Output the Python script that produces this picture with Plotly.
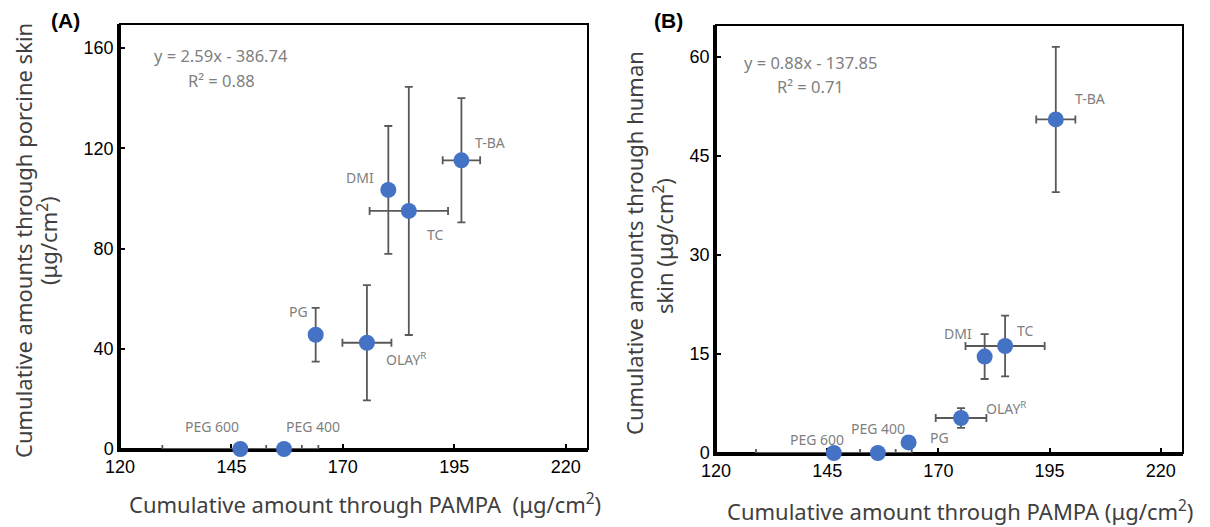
import plotly.graph_objects as go

W, H = 1210, 527

# ---------------- data ----------------
labels = ["PEG 600", "PEG 400", "PG", "OLAY<sup>R</sup>", "DMI", "TC", "T-BA"]

# Panel A (porcine skin)
a_x = [147.0, 156.8, 163.9, 175.4, 180.2, 184.8, 196.6]
a_xerr = [17.5, 4.0, 0.0, 5.5, 0.0, 8.8, 4.2]
a_y = [0.0, 0.0, 45.6, 42.4, 103.4, 95.0, 115.2]
a_yerr = [0.0, 0.0, 10.7, 23.0, 25.5, 49.5, 24.8]

# Panel B (human skin)
b_x = [146.5, 156.4, 163.3, 175.1, 180.4, 185.0, 196.4]
b_xerr = [17.5, 4.0, 0.0, 5.7, 0.0, 8.9, 4.4]
b_y = [0.0, 0.0, 1.6, 5.3, 14.6, 16.2, 50.5]
b_yerr = [0.0, 0.0, 0.0, 1.5, 3.4, 4.6, 11.0]

x_ticks = [120, 145, 170, 195, 220]
a_yticks = [0, 40, 80, 120, 160]
b_yticks = [0, 15, 30, 45, 60]

eq_a = ["y = 2.59x - 386.74", "R² = 0.88"]
eq_b = ["y = 0.88x - 137.85", "R² = 0.71"]

x_title_a = "Cumulative amount through PAMPA  (μg/cm<sup>2</sup>)"
x_title_b = "Cumulative amount through PAMPA (μg/cm<sup>2</sup>)"
y_title_a = ["Cumulative amounts through porcine skin", "(μg/cm<sup>2</sup>)"]
y_title_b = ["Cumulative amounts through human", "skin (μg/cm<sup>2</sup>)"]

# label offsets (px) relative to points
a_off = [(-28, -23), (29, -23), (-17, -23), (39, 16), (-28, -12), (27, 24), (29, -18)]
b_off = [(-17, -14), (0, -25), (31, -5), (45, -10), (-27, -23), (20, -16), (34, -21)]

BLUE = "#4472C4"
EGREY = "#595959"
LGREY = "#7F7F7F"
TFONT = "Noto Sans"


def px(x):
    return x / W


def py(y):
    return 1 - y / H


fig = go.Figure()

for xs, xe, ys, ye, xa, ya in [(a_x, a_xerr, a_y, a_yerr, "x", "y"),
                               (b_x, b_xerr, b_y, b_yerr, "x2", "y2")]:
    fig.add_trace(go.Scatter(
        x=xs, y=ys, mode="markers", xaxis=xa, yaxis=ya,
        marker=dict(color=BLUE, size=16),
        error_x=dict(type="data", array=xe, visible=True, color=EGREY, thickness=1.8, width=4),
        error_y=dict(type="data", array=ye, visible=True, color=EGREY, thickness=1.8, width=4),
        cliponaxis=False, showlegend=False,
    ))

ax_common = dict(showgrid=False, zeroline=False, showline=True, linecolor="black", linewidth=2.5,
                 ticks="inside", ticklen=5, tickwidth=2, tickcolor="black",
                 tickfont=dict(family="Liberation Sans", size=18, color="black"),
                 layer="below traces", mirror=False)

fig.update_layout(
    width=W, height=H, margin=dict(l=0, r=0, t=0, b=0, autoexpand=False),
    plot_bgcolor="white", paper_bgcolor="white",
    xaxis=dict(domain=[px(120), px(588)], range=[120, 225], tickvals=x_ticks, anchor="y", **ax_common),
    yaxis=dict(domain=[py(449), py(24)], range=[0, 169.6], tickvals=a_yticks, anchor="x", **ax_common),
    xaxis2=dict(domain=[px(716), px(1183)], range=[120, 225], tickvals=x_ticks, anchor="y2", **ax_common),
    yaxis2=dict(domain=[py(453), py(25)], range=[0, 64.8], tickvals=b_yticks, anchor="x2", **ax_common),
)

# frames (top/right)
for x0, x1, y0, y1 in [(120, 588, 24, 449), (716, 1183, 25, 453)]:
    fig.add_shape(type="rect", xref="paper", yref="paper", x0=px(x0), x1=px(x1), y0=py(y1), y1=py(y0),
                  line=dict(color="black", width=2), layer="below")

ann = []
for xs, ys, offs, xr, yr in [(a_x, a_y, a_off, "x", "y"), (b_x, b_y, b_off, "x2", "y2")]:
    for lab, xv, yv, (dx, dy) in zip(labels, xs, ys, offs):
        ann.append(dict(x=xv, y=yv, xref=xr, yref=yr, text=lab, showarrow=False,
                        xanchor="center", yanchor="middle",
                        xshift=dx, yshift=-dy, font=dict(family=TFONT, size=14, color=LGREY)))


def pann(x, y, text, size, color, family=TFONT, angle=0):
    return dict(x=px(x), y=py(y), xref="paper", yref="paper", text=text, showarrow=False,
                xanchor="center", yanchor="middle", textangle=angle,
                font=dict(family=family, size=size, color=color))


# equations
for (x, y), t in zip([(221, 55), (221, 80)], eq_a):
    ann.append(pann(x, y, t, 16.5, LGREY))
for (x, y), t in zip([(810, 62), (810, 87)], eq_b):
    ann.append(pann(x, y, t, 16.5, LGREY))

# panel letters
ann.append(pann(65, 20, "<b>(A)</b>", 21, "black", "Liberation Sans"))
ann.append(pann(668, 20, "<b>(B)</b>", 21, "black", "Liberation Sans"))

# axis titles
TCOL = "#404040"
ann.append(pann(365, 503, x_title_a, 22, TCOL))
ann.append(pann(960, 510, x_title_b, 22, TCOL))
ann.append(pann(23, 241, y_title_a[0], 22, TCOL, angle=-90))
ann.append(pann(48, 241, y_title_a[1], 22, TCOL, angle=-90))
ann.append(pann(634, 243, y_title_b[0], 22, TCOL, angle=-90))
ann.append(pann(663, 246, y_title_b[1], 22, TCOL, angle=-90))

fig.update_layout(annotations=ann)
fig.write_html("out.html", post_script="document.body.style.margin='0';",
               config={"displayModeBar": False})
